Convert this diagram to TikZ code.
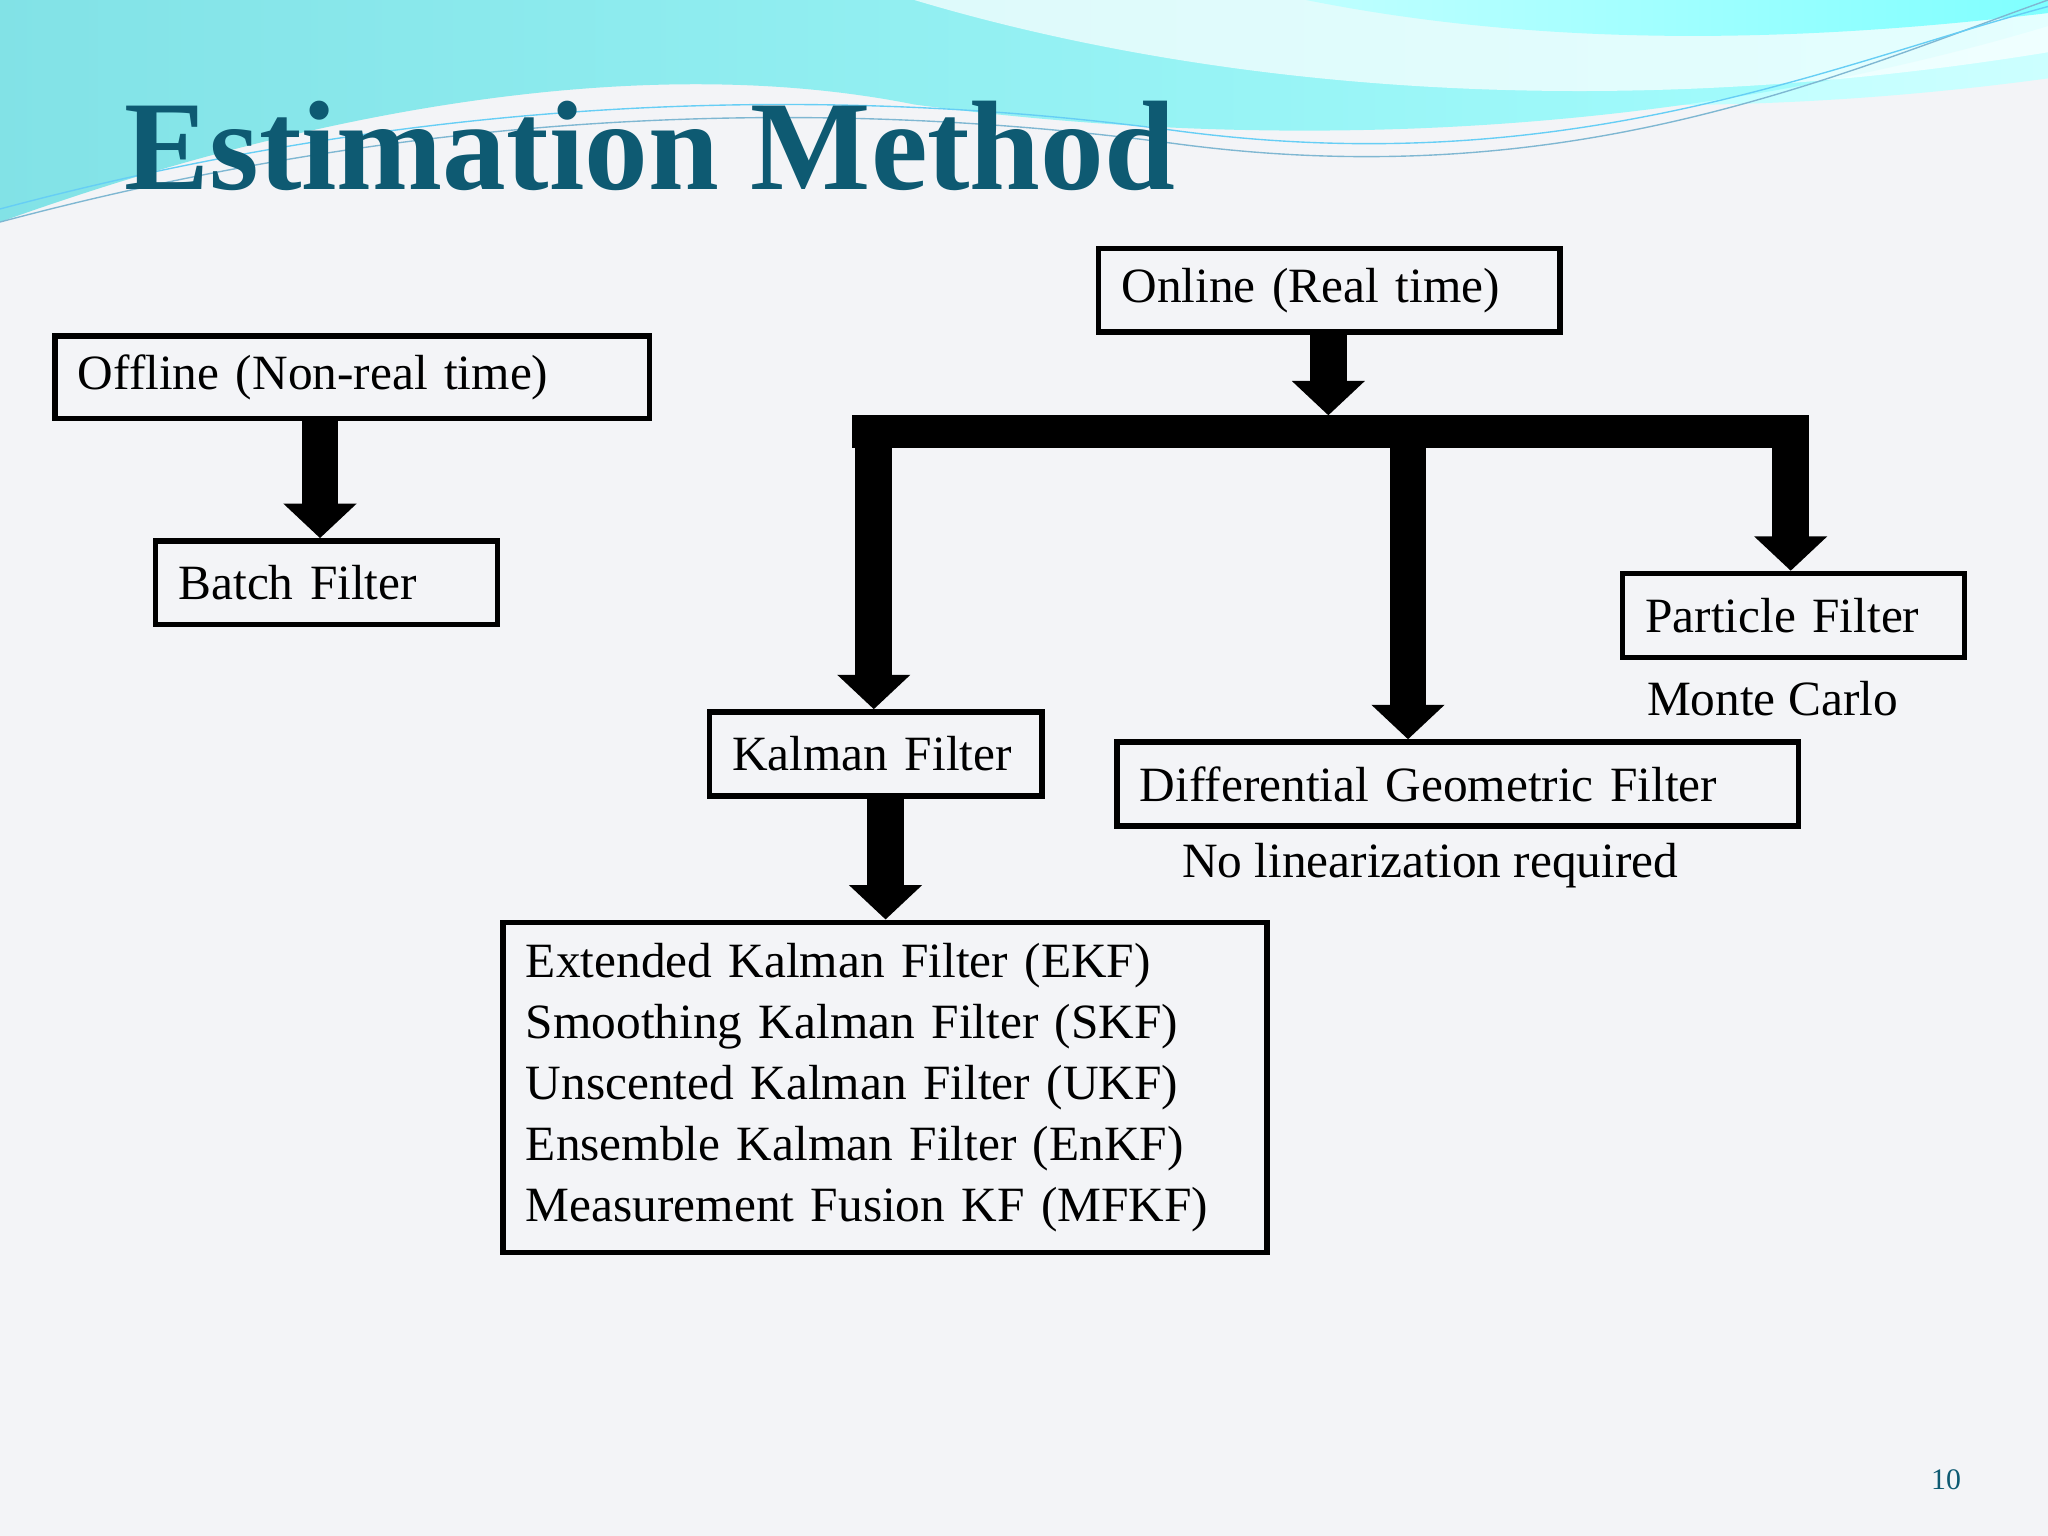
\documentclass[tikz,border=0pt]{standalone}
\usepackage{fontspec}
\setmainfont{Liberation Serif}
\usetikzlibrary{arrows.meta}
\definecolor{teal1}{HTML}{0E5A72}
\definecolor{bg}{HTML}{F3F4F7}
\tikzset{
 box/.style={draw=black,line width=2.4pt,fill=none,inner xsep=9pt,align=left,font=\fontsize{21.5}{26.6}\selectfont,anchor=north west},
 blk/.style={line width=16pt,-{Triangle[width=31pt,length=15pt]}},
 lbl/.style={font=\fontsize{21.5}{24}\selectfont}
}
\begin{document}
\begin{tikzpicture}[x=0.02cm,y=-0.02cm]
\useasboundingbox (0,0) rectangle (1568,1176);
\fill[bg] (0,0) rectangle (1568,1176);
% header waves
\shade[left color=cyan!45!white,right color=cyan!20!white] (0,0) -- (700,0) .. controls (900,60) and (1200,110) .. (1568,60) -- (1568,0) -- cycle;
\shade[left color=teal1!35!cyan!50!white,right color=cyan!35!white] (0,0) -- (0,170) .. controls (250,80) and (500,40) .. (700,80) .. controls (1000,120) and (1300,100) .. (1568,20) -- (1568,0) -- cycle;
\fill[white,opacity=0.7] (700,0) .. controls (900,60) and (1200,100) .. (1568,40) -- (1568,0) -- cycle;
\shade[left color=cyan!25!white,right color=cyan!50!white] (1000,0) .. controls (1200,40) and (1400,30) .. (1568,10) -- (1568,0) -- cycle;
\draw[cyan!50!teal1!60,line width=0.6pt] (0,170) .. controls (300,90) and (600,70) .. (900,110) .. controls (1200,150) and (1400,60) .. (1568,0);
\draw[cyan!60!white,line width=0.6pt] (0,160) .. controls (300,80) and (600,60) .. (900,100) .. controls (1200,140) and (1400,50) .. (1568,5);
% title
\node[anchor=base west,text=teal1,font=\fontsize{55.5}{56}\selectfont\bfseries,inner sep=0] (title) at (95,145) {Estimation Method};
% boxes
\node[box,minimum width=259pt,minimum height=36pt,text width=239pt] (off) at (40,255) {Offline (Non-real time)};
\node[box,minimum width=149pt,minimum height=36.5pt,text width=129pt] (batch) at (117,412) {Batch Filter};
\node[box,minimum width=201pt,minimum height=36.5pt,text width=181pt] (on) at (839,188) {Online (Real time)};
\node[box,minimum width=145pt,minimum height=36.5pt,text width=125pt] (kal) at (541,543) {Kalman Filter};
\node[box,minimum width=149pt,minimum height=36.5pt,text width=129pt] (part) at (1240,437) {Particle Filter};
\node[box,minimum width=297pt,minimum height=36.5pt,text width=277pt] (dgf) at (853,566) {Differential Geometric Filter};
\node[box,minimum width=333pt,minimum height=144pt,text width=313pt] (list) at (383,704) {Extended Kalman Filter (EKF)\\Smoothing Kalman Filter (SKF)\\Unscented Kalman Filter (UKF)\\Ensemble Kalman Filter (EnKF)\\Measurement Fusion KF (MFKF)};
\node[lbl] (mc) at (1357,535) {Monte Carlo};
\node[lbl] (nl) at (1095,663) {No linearization required};
\node[text=teal1,font=\fontsize{13}{13}\selectfont] (pg) at (1490,1133) {10};
% arrows
\draw[blk] (off.south -| 245,0) -- (batch.north -| 245,0);
\coordinate (b1) at (1017,318);
\draw[blk] (on.south -| b1) -- (b1);
\fill (652,318) rectangle (1385,343);
\coordinate (k1) at (669,330);
\coordinate (d1) at (1078,330);
\coordinate (p1) at (1371,330);
\draw[blk] (k1) -- (kal.north -| k1);
\draw[blk] (d1) -- (dgf.north -| d1);
\draw[blk] (p1) -- (part.north -| p1);
\draw[blk] (kal.south -| 678,0) -- (list.north -| 678,0);
\end{tikzpicture}
\end{document}
